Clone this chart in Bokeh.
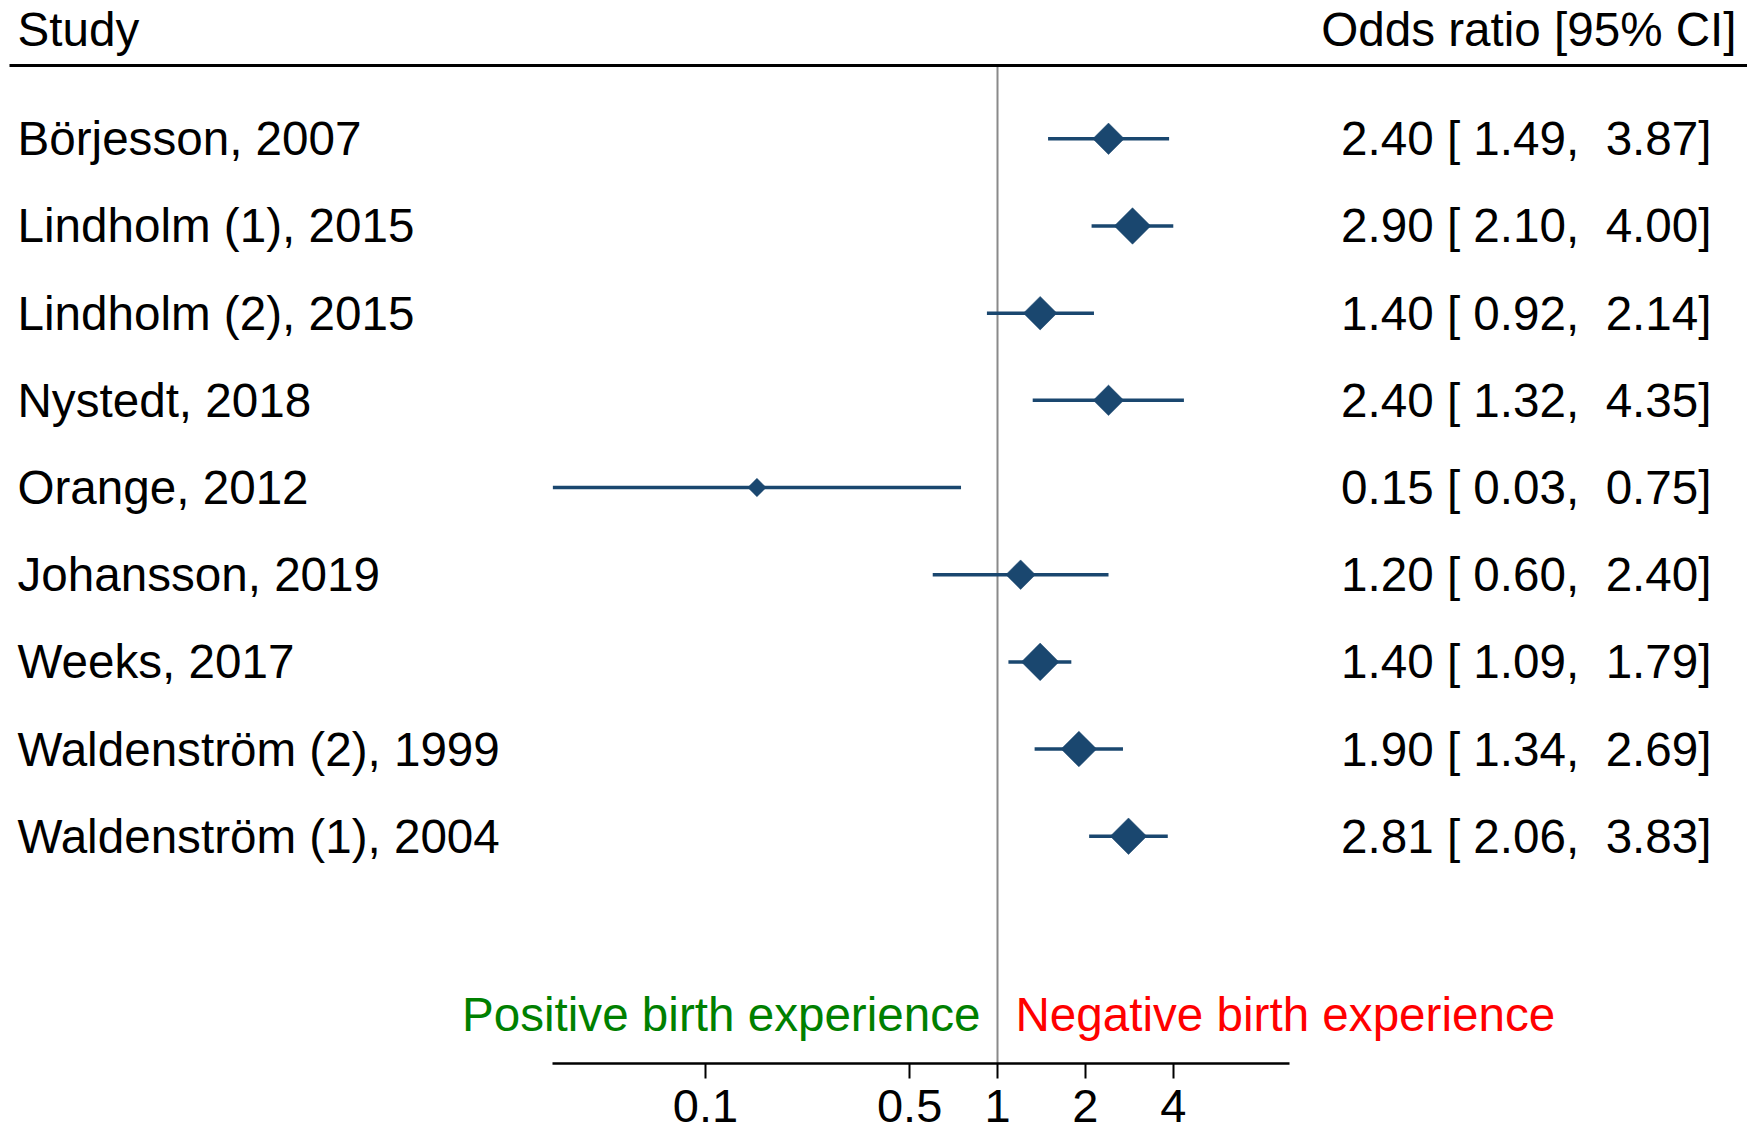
import math
from bokeh.plotting import figure
from bokeh.models import Range1d, LinearScale, FixedTicker
from bokeh.core.properties import value
from bokeh.embed import file_html
from bokeh.resources import INLINE

# ---------------- data ----------------
studies = ["Börjesson, 2007", "Lindholm (1), 2015", "Lindholm (2), 2015",
           "Nystedt, 2018", "Orange, 2012", "Johansson, 2019", "Weeks, 2017",
           "Waldenström (2), 1999", "Waldenström (1), 2004"]
odds_ratio = [2.40, 2.90, 1.40, 2.40, 0.15, 1.20, 1.40, 1.90, 2.81]
ci_low = [1.49, 2.10, 0.92, 1.32, 0.03, 0.60, 1.09, 1.34, 2.06]
ci_high = [3.87, 4.00, 2.14, 4.35, 0.75, 2.40, 1.79, 2.69, 3.83]
weights = [10.3, 13.9, 11.7, 9.7, 3.5, 9.1, 14.7, 13.2, 13.9]   # study weights (%)
tick_values = [0.1, 0.5, 1, 2, 4]
tick_labels = ["0.1", "0.5", "1", "2", "4"]
header_left = "Study"
header_right = "Odds ratio [95% CI]"
favours_left = "Positive birth experience"
favours_right = "Negative birth experience"

# ---------------- layout ----------------
W, H = 1747, 1135
FONT = "Liberation Sans"
FS = "47.6px"
FS_TICK = "47px"
NAVY = "#1a476f"

# vertical: row index -> pixel (from top of figure)
row0_px, row_step = 138.3, 87.18
y_top = (0 - row0_px) / row_step
y_bot = (H - row0_px) / row_step
axis_y = (1063 - row0_px) / row_step
hdr_line_y = (65 - row0_px) / row_step
hdr_text_y = -1.25
favour_y = 10.05

# horizontal: log odds ratio
one_px, px_per_ln = 997.0, 126.8
x_start = math.exp((0 - one_px) / px_per_ln)
x_end = math.exp((W - one_px) / px_per_ln)

p = figure(width=W, height=H, x_axis_type="log",
           x_range=Range1d(x_start, x_end), y_range=Range1d(y_bot, y_top),
           min_border=0, toolbar_location=None, output_backend="svg",
           outline_line_color=None, y_axis_location=None)
p.grid.visible = False
p.background_fill_color = "white"
p.border_fill_color = "white"

p.extra_x_ranges = {"px": Range1d(0, W)}
p.extra_x_scales = {"px": LinearScale()}

rows = list(range(len(studies)))

# reference line at OR = 1
p.segment(x0=[1], y0=[hdr_line_y], x1=[1], y1=[axis_y], line_color="#8a8a8a", line_width=2)

# header line
p.segment(x0=[9], y0=[hdr_line_y], x1=[W], y1=[hdr_line_y], x_range_name="px",
          line_color="black", line_width=3)

# confidence intervals
p.segment(x0=ci_low, y0=rows, x1=ci_high, y1=rows, line_color=NAVY, line_width=3.5)

# diamonds (size ~ sqrt(weight))
sizes = [9.8 * math.sqrt(w) / math.sqrt(2) for w in weights]
p.scatter(x=odds_ratio, y=rows, size=sizes, marker="square", angle=math.pi / 4,
          fill_color=NAVY, line_color=NAVY, line_width=0.5)

# texts
p.text(x=[17] * len(studies), y=rows, text=studies, x_range_name="px",
       text_font=value(FONT), text_font_size=FS, text_align="left",
       text_baseline="middle", text_color="black")

ci_text = [f"{o:.2f} [ {l:.2f}, \u00a0{h:.2f}]" for o, l, h in zip(odds_ratio, ci_low, ci_high)]
p.text(x=[1711] * len(studies), y=rows, text=ci_text, x_range_name="px",
       text_font=value(FONT), text_font_size=FS, text_align="right",
       text_baseline="middle", text_color="black")

p.text(x=[17], y=[hdr_text_y], text=[header_left], x_range_name="px",
       text_font=value(FONT), text_font_size=FS, text_align="left",
       text_baseline="middle", text_color="black")
p.text(x=[1736], y=[hdr_text_y], text=[header_right], x_range_name="px",
       text_font=value(FONT), text_font_size=FS, text_align="right",
       text_baseline="middle", text_color="black")

p.text(x=[one_px - 17], y=[favour_y], text=[favours_left], x_range_name="px",
       text_font=value(FONT), text_font_size=FS, text_align="right",
       text_baseline="middle", text_color="#008000")
p.text(x=[one_px + 18], y=[favour_y], text=[favours_right], x_range_name="px",
       text_font=value(FONT), text_font_size=FS, text_align="left",
       text_baseline="middle", text_color="#ff0000")

# x axis
ax = p.xaxis[0]
ax.fixed_location = axis_y
ax.bounds = (0.03, 10)
ax.ticker = FixedTicker(ticks=tick_values, minor_ticks=[])
ax.major_label_overrides = {v: s for v, s in zip(tick_values, tick_labels)}
ax.axis_line_width = 2.5
ax.axis_line_color = "black"
ax.major_tick_line_width = 2
ax.major_tick_out = 15
ax.major_tick_in = 0
ax.minor_tick_out = 0
ax.minor_tick_in = 0
ax.major_label_standoff = 11
ax.major_label_text_font = FONT
ax.major_label_text_font_size = FS_TICK
ax.major_label_text_color = "black"

open("out.html", "w").write(file_html(p, INLINE))
